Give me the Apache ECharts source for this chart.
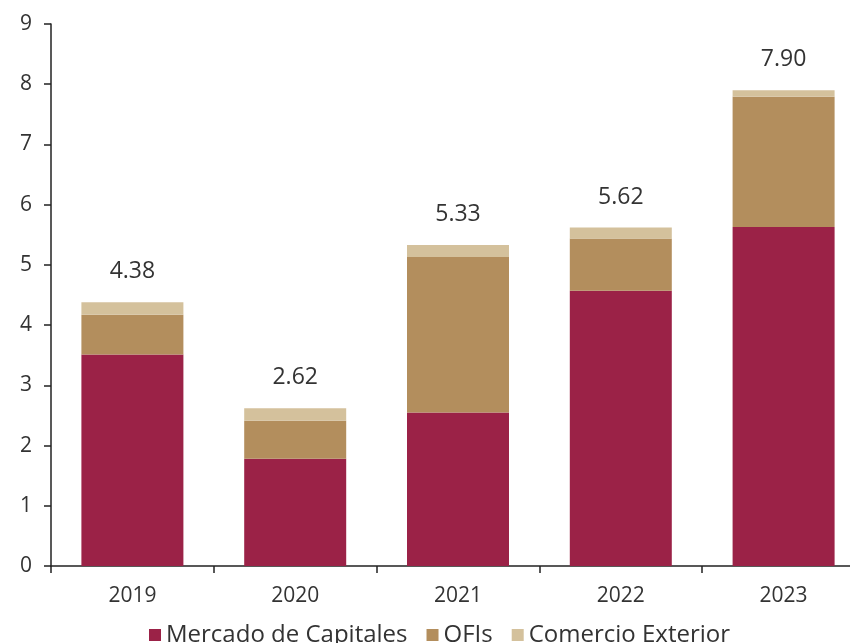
<!DOCTYPE html>
<html>
<head>
<meta charset="utf-8">
<style>
  html, body { margin: 0; padding: 0; background: #ffffff; overflow: hidden; }
  /* The plot runs slightly past the right edge of the window, so the
     canvas is a little wider than the visible page. */
  #chart { width: 866px; height: 643px; }
</style>
<script src="https://cdn.jsdelivr.net/npm/echarts@6/dist/echarts.min.js"></script>
</head>
<body>
<div id="chart"></div>
<script>
// Years on the category axis
const years = ['2019', '2020', '2021', '2022', '2023'];

// Stacked components per year
const mercadoCapitales = [3.51, 1.78, 2.55, 4.57, 5.63];
const ofis = [0.66, 0.63, 2.58, 0.87, 2.16];
const comercioExterior = [0.21, 0.21, 0.20, 0.18, 0.11];

// Series names shown in the legend
const seriesNames = ['Mercado de Capitales', 'OFIs', 'Comercio Exterior'];

// Value-axis ticks
const yMin = 0;
const yMax = 9;
const yStep = 1;

const FONT = '"Open Sans", "Liberation Sans", sans-serif';
const TEXT = '#333333';

const chart = echarts.init(document.getElementById('chart'), null, { renderer: 'canvas' });

const total = i => mercadoCapitales[i] + ofis[i] + comercioExterior[i];

const option = {
  animation: false,
  backgroundColor: '#ffffff',
  grid: { left: 51, top: 24, width: 814, height: 542, containLabel: false },
  legend: {
    data: seriesNames,
    left: 144,
    top: 618,
    icon: 'rect',
    itemWidth: 12,
    itemHeight: 12,
    itemGap: 19,
    textStyle: { fontFamily: FONT, fontSize: 24, color: TEXT }
  },
  xAxis: {
    type: 'category',
    data: years,
    axisLine: { lineStyle: { color: '#222222', width: 1.5 } },
    axisTick: { show: true, length: 7, lineStyle: { color: '#222222', width: 1.5 } },
    axisLabel: { margin: 20, fontFamily: FONT, fontSize: 21, color: TEXT }
  },
  yAxis: {
    type: 'value',
    min: yMin,
    max: yMax,
    interval: yStep,
    splitLine: { show: false },
    axisLine: { show: true, lineStyle: { color: '#222222', width: 1.5 } },
    axisTick: { show: true, length: 7, lineStyle: { color: '#222222', width: 1.5 } },
    axisLabel: { margin: 19, fontFamily: FONT, fontSize: 21, color: TEXT }
  },
  series: [
    {
      name: seriesNames[0],
      type: 'bar',
      stack: 'total',
      barWidth: 102,
      data: mercadoCapitales,
      itemStyle: { color: '#9B2247' }
    },
    {
      name: seriesNames[1],
      type: 'bar',
      stack: 'total',
      barWidth: 102,
      data: ofis,
      itemStyle: { color: '#B38E5D' }
    },
    {
      name: seriesNames[2],
      type: 'bar',
      stack: 'total',
      barWidth: 102,
      data: comercioExterior,
      itemStyle: { color: '#D4C19C' },
      label: {
        show: true,
        position: 'top',
        distance: 19,
        fontFamily: FONT,
        fontSize: 23,
        color: TEXT,
        formatter: p => total(p.dataIndex).toFixed(2)
      }
    }
  ]
};

chart.setOption(option);
</script>
</body>
</html>
